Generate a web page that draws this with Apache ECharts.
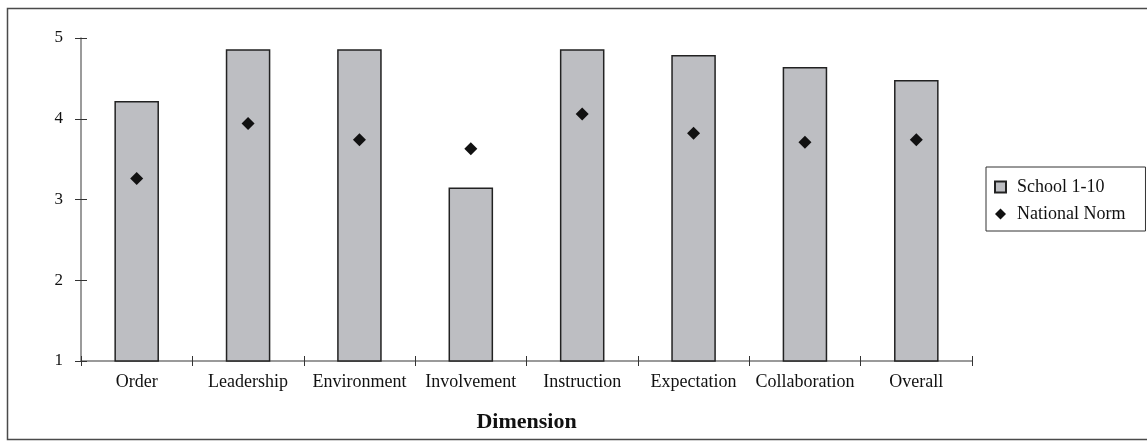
<!DOCTYPE html>
<html>
<head>
<meta charset="utf-8">
<script src="https://cdn.jsdelivr.net/npm/echarts@6/dist/echarts.min.js"></script>
<style>
html,body{margin:0;padding:0;background:#fff;}
#c{width:1147px;height:443px;}
</style>
</head>
<body>
<div id="c"></div>
<script>
const categories = ['Order','Leadership','Environment','Involvement','Instruction','Expectation','Collaboration','Overall'];
const schoolValues = [4.22, 4.86, 4.86, 3.15, 4.86, 4.79, 4.64, 4.48];
const normValues = [3.26, 3.94, 3.74, 3.63, 4.06, 3.82, 3.71, 3.74];
const yTicks = [1, 2, 3, 4, 5];

const FONT = '"Liberation Serif", "DejaVu Serif", serif';
const chart = echarts.init(document.getElementById('c'), null, {renderer: 'canvas'});
const grid = {left: 81, right: 175, top: 38, bottom: 82};
const axisColor = '#7a7a7a';
chart.setOption({
  animation: false,
  backgroundColor: '#fff',
  graphic: [{
    type: 'rect', left: 5, top: 6, shape: {x: 0, y: 0, width: 1145, height: 431},
    style: {fill: 'none', stroke: '#4a4a4a', lineWidth: 1.5}, silent: true
  }],
  grid: grid,
  legend: {
    orient: 'vertical', left: 986, top: 167,
    padding: [11, 20, 8, 8], itemGap: 9,
    borderColor: '#333', borderWidth: 1,
    itemWidth: 11, itemHeight: 11,
    textStyle: {fontFamily: FONT, fontSize: 18, color: '#111', padding: [0, 0, 0, 6]},
    data: [{name: 'School 1-10', icon: 'rect'}, {name: 'National Norm', icon: 'diamond'}]
  },
  xAxis: [{
    type: 'category', data: categories, boundaryGap: true,
    name: 'Dimension', nameLocation: 'middle', nameGap: 50,
    nameTextStyle: {fontFamily: FONT, fontSize: 22, fontWeight: 'bold', color: '#111'},
    axisLine: {lineStyle: {color: axisColor, width: 1.5}},
    axisTick: {show: true, length: 5, lineStyle: {color: '#333'}, alignWithLabel: false},
    axisLabel: {fontFamily: FONT, fontSize: 18, color: '#111', margin: 12, interval: 0},
    splitLine: {show: false}
  }, {
    type: 'category', data: categories, position: 'bottom',
    axisLine: {show: false},
    axisTick: {show: true, inside: true, length: 5, lineStyle: {color: '#333'}},
    axisLabel: {show: false}
  }],
  yAxis: [{
    type: 'value', min: 1, max: 5, interval: 1,
    axisLine: {show: true, lineStyle: {color: axisColor, width: 1.5}},
    axisTick: {show: true, length: 6, lineStyle: {color: '#333'}},
    axisLabel: {fontFamily: FONT, fontSize: 17, color: '#111', margin: 18,
      formatter: v => yTicks.includes(v) ? String(v) : ''},
    splitLine: {show: false}
  }, {
    type: 'value', min: 1, max: 5, interval: 1, position: 'left',
    axisLine: {show: false},
    axisTick: {show: true, inside: true, length: 6, lineStyle: {color: '#333'}},
    axisLabel: {show: false}, splitLine: {show: false}
  }],
  series: [{
    name: 'School 1-10', type: 'bar', data: schoolValues,
    barWidth: '40%',
    itemStyle: {color: '#bdbec2', borderColor: '#222', borderWidth: 1.5},
    z: 2
  }, {
    name: 'National Norm', type: 'scatter', data: normValues,
    symbol: 'diamond', symbolSize: 13,
    itemStyle: {color: '#111', opacity: 1},
    z: 3
  }]
});
</script>
</body>
</html>
